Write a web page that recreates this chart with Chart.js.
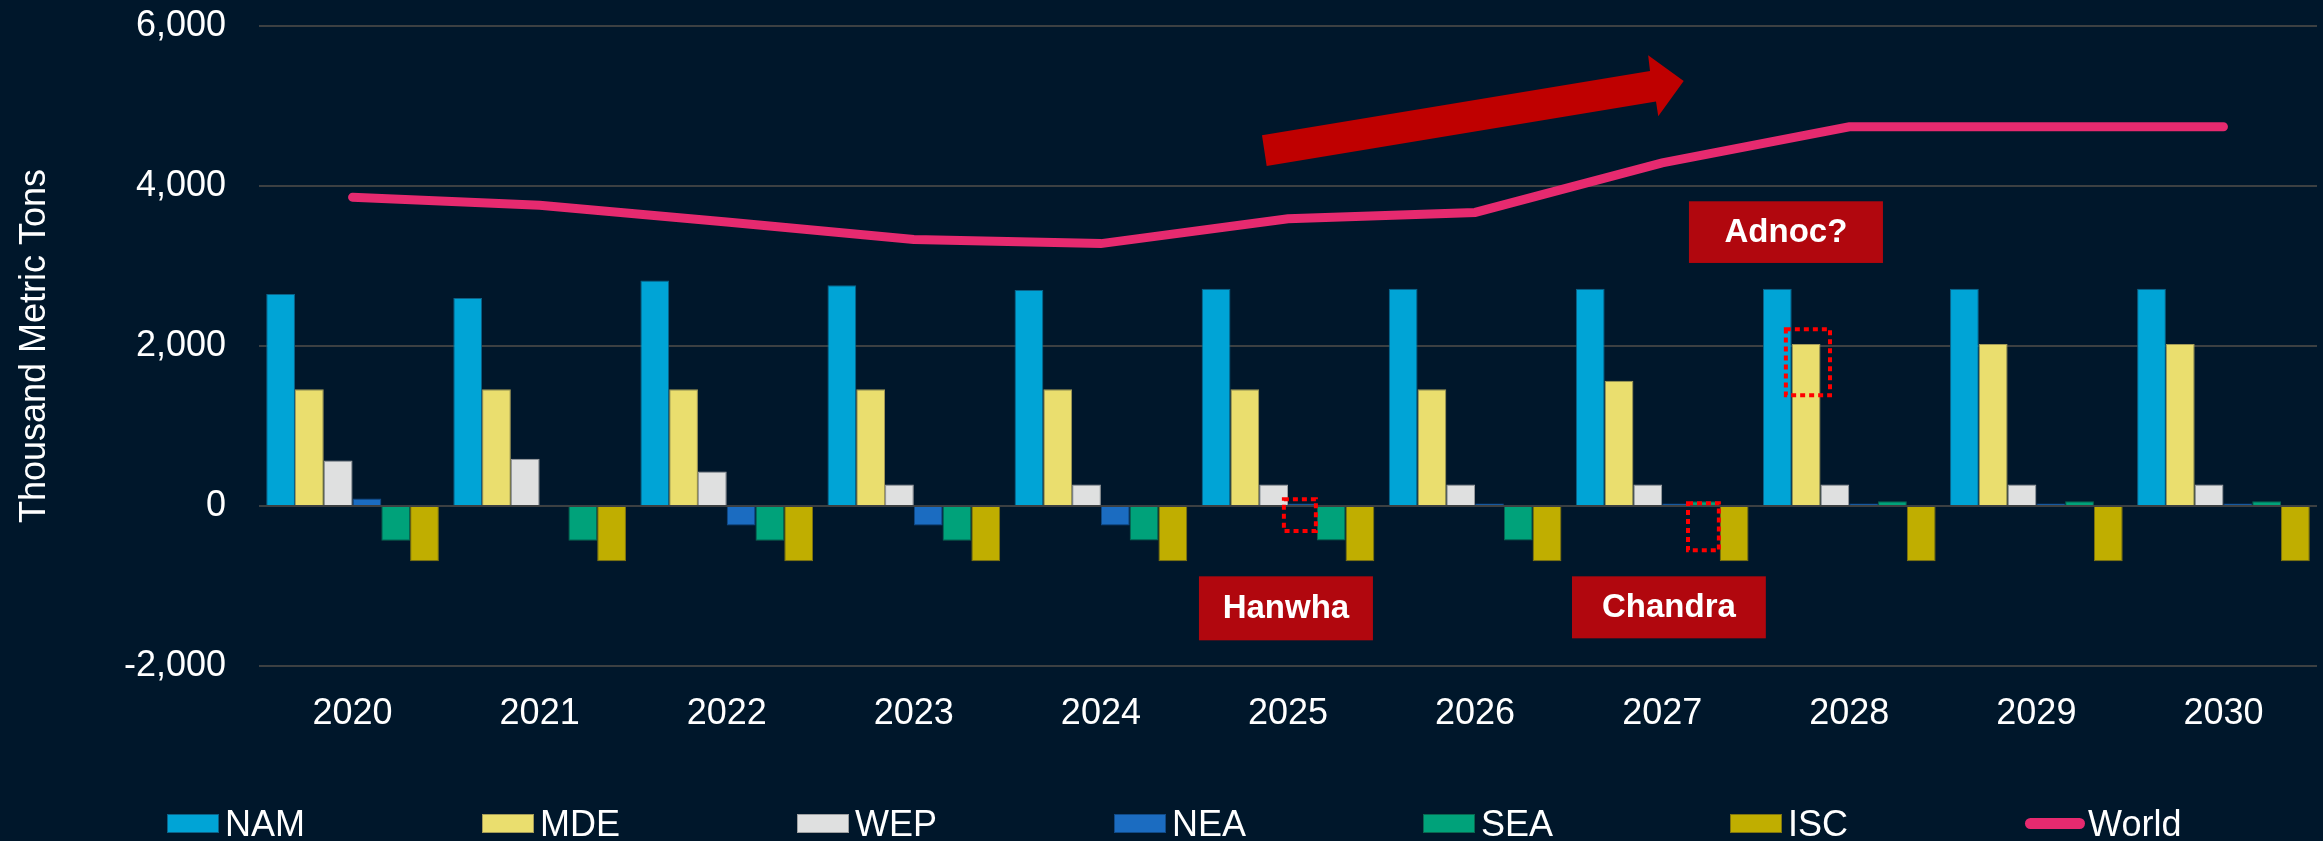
<!DOCTYPE html>
<html>
<head>
<meta charset="utf-8">
<title>Regional balance 2020-2030</title>
<script src="https://cdn.jsdelivr.net/npm/chart.js@4.4.1/dist/chart.umd.min.js"></script>
<style>
  html, body { margin: 0; padding: 0; background: #00172b; }
  #wrap { position: relative; width: 2323px; height: 841px; background: #00172b; overflow: hidden; }
  #chart { position: absolute; left: 0; top: 0; }
  #legend {
    position: absolute; left: 167px; top: 802px;
    display: flex; align-items: center;
    font: 36px "Liberation Sans", Arial, sans-serif; line-height: 43px;
    color: #ffffff; white-space: nowrap;
  }
  .item { display: flex; align-items: center; margin-right: 177px; }
  .swatch { width: 52px; height: 19px; box-sizing: border-box; border: 1px solid; margin-right: 6px; }
  .swatch.line { width: 60px; height: 11px; border: none; border-radius: 6px; margin-right: 3px; }
</style>
</head>
<body>
<div id="wrap">
  <canvas id="chart" width="2323" height="841"></canvas>
  <div id="legend"></div>
</div>
<script>
// years on the x axis
const years = ['2020', '2021', '2022', '2023', '2024', '2025', '2026', '2027', '2028', '2029', '2030'];

// regional values, thousand metric tons
const namValues = [2650, 2600, 2820, 2760, 2700, 2715, 2715, 2715, 2715, 2715, 2715];
const mdeValues = [1460, 1460, 1460, 1460, 1460, 1460, 1460, 1565, 2025, 2025, 2025];
const wepValues = [570, 590, 430, 270, 270, 270, 270, 270, 270, 270, 270];
const neaValues = [95, 15, -245, -245, -245, 30, 30, 30, 30, 30, 30];
const seaValues = [-435, -435, -435, -435, -430, -430, -430, 60, 60, 60, 60];
const iscValues = [-690, -690, -690, -690, -690, -690, -690, -690, -690, -690, -690];
const worldValues = [3860, 3760, 3550, 3330, 3280, 3590, 3670, 4290, 4740, 4740, 4740];

const yTicks = { min: -2000, max: 6000, step: 2000 };

// callouts placed in axis units (x = category index, y = value)
const callouts = [
  { text: 'Hanwha', x0: 4.524, x1: 5.454, y0: -879, y1: -1679 },
  { text: 'Chandra', x0: 6.518, x1: 7.554, y0: -879, y1: -1654 },
  { text: 'Adnoc?', x0: 7.143, x1: 8.18, y0: 3809, y1: 3038 }
];
const dottedBoxes = [
  { x0: 4.978, x1: 5.149, y0: 84, y1: -312 },
  { x0: 7.138, x1: 7.303, y0: 34, y1: -554 },
  { x0: 7.661, x1: 7.897, y0: 2209, y1: 1384 }
];
const trendArrow = [
  [4.861, 4634], [6.935, 5438], [6.925, 5634], [7.115, 5313],
  [6.979, 4871], [6.967, 5055], [4.886, 4250]
];

Chart.defaults.font.family = '"Liberation Sans", Arial, sans-serif';
Chart.defaults.color = '#ffffff';

function barSet(label, data, fill, edge) {
  return {
    type: 'bar',
    label: label,
    data: data,
    backgroundColor: fill,
    borderColor: edge,
    borderWidth: 1,
    categoryPercentage: 0.923,
    barPercentage: 1.0,
    order: 1
  };
}

const calloutPlugin = {
  id: 'callouts',
  afterDatasetsDraw(chart) {
    const ctx = chart.ctx;
    const xs = chart.scales.x;
    const ys = chart.scales.y;
    const px = v => xs.getPixelForValue(v);
    const py = v => ys.getPixelForValue(v);

    ctx.save();

    // big trend arrow
    ctx.fillStyle = '#bf0000';
    ctx.beginPath();
    trendArrow.forEach((p, i) => {
      if (i === 0) ctx.moveTo(px(p[0]), py(p[1]));
      else ctx.lineTo(px(p[0]), py(p[1]));
    });
    ctx.closePath();
    ctx.fill();

    // labelled red boxes
    ctx.font = 'bold 33px "Liberation Sans", Arial, sans-serif';
    ctx.textAlign = 'center';
    ctx.textBaseline = 'middle';
    callouts.forEach(c => {
      const l = px(c.x0), r = px(c.x1), t = py(c.y0), b = py(c.y1);
      ctx.fillStyle = '#b1070e';
      ctx.fillRect(l, t, r - l, b - t);
      ctx.fillStyle = '#ffffff';
      ctx.fillText(c.text, (l + r) / 2, (t + b) / 2 + 1);
    });

    // dotted highlight frames
    ctx.strokeStyle = '#ff0000';
    ctx.lineWidth = 4;
    ctx.setLineDash([5, 4]);
    dottedBoxes.forEach(d => {
      const l = px(d.x0), r = px(d.x1), t = py(d.y0), b = py(d.y1);
      ctx.strokeRect(l, t, r - l, b - t);
    });

    ctx.restore();
  }
};

const chart = new Chart(document.getElementById('chart'), {
  data: {
    labels: years,
    datasets: [
      barSet('NAM', namValues, '#00a4d6', '#0c6288'),
      barSet('MDE', mdeValues, '#eade6e', '#a39b58'),
      barSet('WEP', wepValues, '#dfe0e0', '#9ea0a2'),
      barSet('NEA', neaValues, '#1b6cc1', '#114a86'),
      barSet('SEA', seaValues, '#00a27a', '#0a6650'),
      barSet('ISC', iscValues, '#c0ae00', '#7f7410'),
      {
        type: 'line',
        label: 'World',
        data: worldValues,
        borderColor: '#e62a6f',
        backgroundColor: '#e62a6f',
        borderWidth: 9,
        borderCapStyle: 'round',
        borderJoinStyle: 'miter',
        pointRadius: 0,
        tension: 0,
        fill: false,
        order: 0
      }
    ]
  },
  options: {
    responsive: false,
    animation: false,
    layout: { padding: { left: 0, right: 6, top: 26, bottom: 115 } },
    scales: {
      x: {
        grid: { display: false, drawTicks: false },
        border: { display: false },
        ticks: { font: { size: 36 }, color: '#ffffff', padding: 26, maxRotation: 0 },
        afterFit(scale) { scale.height = 60; }
      },
      y: {
        min: yTicks.min,
        max: yTicks.max,
        ticks: {
          stepSize: yTicks.step,
          font: { size: 36 },
          color: '#ffffff',
          padding: 33,
          callback: v => v.toLocaleString('en-US')
        },
        grid: { color: '#3c4042', lineWidth: 2, drawTicks: false },
        border: { display: false },
        title: {
          display: true,
          text: 'Thousand Metric Tons',
          font: { size: 36 },
          color: '#ffffff',
          padding: { top: 13, bottom: 0 }
        },
        afterFit(scale) {
          // fixed axis gutter; the top/bottom labels may overhang the plot
          scale.width = 259;
          scale.paddingTop = 0;
          scale.paddingBottom = 0;
        }
      }
    },
    plugins: {
      legend: { display: false },
      tooltip: { enabled: false }
    }
  },
  plugins: [calloutPlugin]
});

// legend row under the plot, built from the datasets
const legendEl = document.getElementById('legend');
chart.data.datasets.forEach(ds => {
  const item = document.createElement('div');
  item.className = 'item';
  const swatch = document.createElement('span');
  swatch.className = ds.type === 'line' ? 'swatch line' : 'swatch';
  swatch.style.background = ds.backgroundColor;
  swatch.style.borderColor = ds.borderColor;
  const label = document.createElement('span');
  label.textContent = ds.label;
  item.appendChild(swatch);
  item.appendChild(label);
  legendEl.appendChild(item);
});
</script>
</body>
</html>
